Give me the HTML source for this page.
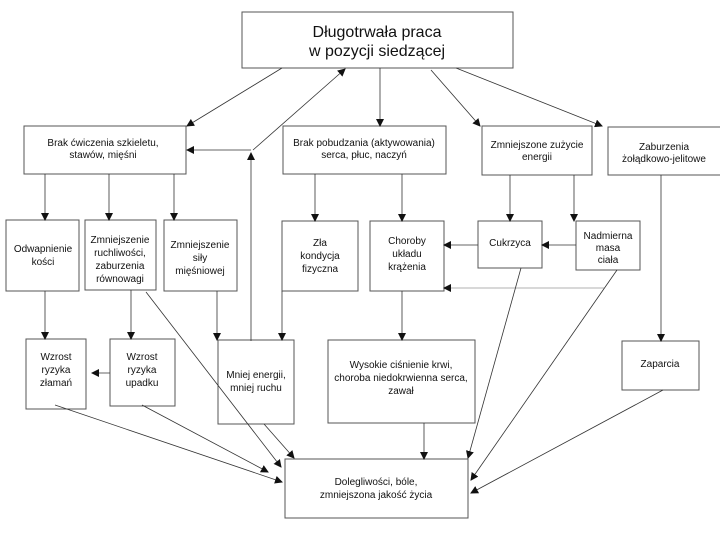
<!DOCTYPE html>
<html><head><meta charset="utf-8"><style>
html,body{margin:0;padding:0;background:#fff}
svg{display:block}
text{font-family:"Liberation Sans",Arial,sans-serif;font-size:10px;fill:#111;text-anchor:middle}
.b{fill:#fff;stroke:#555;stroke-width:1}
.l{stroke:#333;stroke-width:0.8;fill:none}
</style></head><body>
<svg width="720" height="540" viewBox="0 0 720 540" xmlns="http://www.w3.org/2000/svg">
<defs><marker id="a" markerWidth="8" markerHeight="8" refX="7" refY="4" orient="auto" markerUnits="userSpaceOnUse"><path d="M0,0 L8,4 L0,8 z" fill="#111"/></marker></defs>
<!-- boxes -->
<rect class="b" x="242" y="12" width="271" height="56"/>
<text x="377" y="37" style="font-size:16px">Długotrwała praca</text>
<text x="377" y="56" style="font-size:16px">w pozycji siedzącej</text>

<rect class="b" x="24" y="126" width="162" height="48"/>
<text x="103" y="146">Brak ćwiczenia szkieletu,</text><text x="103" y="158">stawów, mięśni</text>
<rect class="b" x="283" y="126" width="163" height="48"/>
<text x="364" y="146">Brak pobudzania (aktywowania)</text><text x="364" y="158">serca, płuc, naczyń</text>
<rect class="b" x="482" y="126" width="110" height="49"/>
<text x="537" y="148">Zmniejszone zużycie</text><text x="537" y="160">energii</text>
<rect class="b" x="608" y="127" width="114" height="48"/>
<text x="664" y="150">Zaburzenia</text><text x="664" y="162">żołądkowo-jelitowe</text>

<rect class="b" x="6" y="220" width="73" height="71"/>
<text x="43" y="252">Odwapnienie</text><text x="43" y="265">kości</text>
<rect class="b" x="85" y="220" width="71" height="70"/>
<text x="120" y="243">Zmniejszenie</text><text x="120" y="256">ruchliwości,</text><text x="120" y="269">zaburzenia</text><text x="120" y="282">równowagi</text>
<rect class="b" x="164" y="220" width="73" height="71"/>
<text x="200" y="248">Zmniejszenie</text><text x="200" y="261">siły</text><text x="200" y="274">mięśniowej</text>
<rect class="b" x="282" y="221" width="76" height="70"/>
<text x="320" y="246">Zła</text><text x="320" y="259">kondycja</text><text x="320" y="272">fizyczna</text>
<rect class="b" x="370" y="221" width="74" height="70"/>
<text x="407" y="244">Choroby</text><text x="407" y="257">układu</text><text x="407" y="270">krążenia</text>
<rect class="b" x="478" y="221" width="64" height="47"/>
<text x="510" y="246">Cukrzyca</text>
<rect class="b" x="576" y="221" width="64" height="49"/>
<text x="608" y="239">Nadmierna</text><text x="608" y="251">masa</text><text x="608" y="263">ciała</text>

<rect class="b" x="26" y="339" width="60" height="70"/>
<text x="56" y="360">Wzrost</text><text x="56" y="373">ryzyka</text><text x="56" y="386">złamań</text>
<rect class="b" x="110" y="339" width="65" height="67"/>
<text x="142" y="360">Wzrost</text><text x="142" y="373">ryzyka</text><text x="142" y="386">upadku</text>
<rect class="b" x="218" y="340" width="76" height="84"/>
<text x="256" y="378">Mniej energii,</text><text x="256" y="391">mniej ruchu</text>
<rect class="b" x="328" y="340" width="147" height="83"/>
<text x="401" y="368">Wysokie ciśnienie krwi,</text><text x="401" y="381">choroba niedokrwienna serca,</text><text x="401" y="394">zawał</text>
<rect class="b" x="622" y="341" width="77" height="49"/>
<text x="660" y="367">Zaparcia</text>

<rect class="b" x="285" y="459" width="183" height="59"/>
<text x="376" y="485">Dolegliwości, bóle,</text><text x="376" y="498">zmniejszona jakość życia</text>

<!-- connectors -->
<g class="l" marker-end="url(#a)">
<line x1="282" y1="68" x2="187" y2="126"/>
<line x1="380" y1="68" x2="380" y2="126"/>
<line x1="431" y1="70" x2="480" y2="126"/>
<line x1="456" y1="68" x2="602" y2="126"/>
<line x1="251" y1="341" x2="251" y2="153"/>
<line x1="253" y1="150" x2="345" y2="69"/>
<line x1="251" y1="150" x2="187" y2="150"/>
<line x1="45" y1="174" x2="45" y2="220"/>
<line x1="109" y1="174" x2="109" y2="220"/>
<line x1="174" y1="174" x2="174" y2="220"/>
<line x1="315" y1="174" x2="315" y2="221"/>
<line x1="402" y1="174" x2="402" y2="221"/>
<line x1="510" y1="175" x2="510" y2="221"/>
<line x1="574" y1="175" x2="574" y2="221"/>
<line x1="661" y1="175" x2="661" y2="341"/>
<line x1="478" y1="245" x2="444" y2="245"/>
<line x1="576" y1="245" x2="542" y2="245"/>
<line x1="604" y1="288" x2="444" y2="288" style="stroke:#999"/>
<line x1="45" y1="291" x2="45" y2="339"/>
<line x1="131" y1="290" x2="131" y2="339"/>
<line x1="217" y1="291" x2="217" y2="340"/>
<line x1="282" y1="291" x2="282" y2="340"/>
<line x1="402" y1="291" x2="402" y2="340"/>
<line x1="110" y1="373" x2="92" y2="373"/>
<line x1="146" y1="292" x2="281" y2="467"/>
<line x1="55" y1="405" x2="282" y2="482"/>
<line x1="142" y1="405" x2="268" y2="472"/>
<line x1="264" y1="424" x2="294" y2="458"/>
<line x1="424" y1="423" x2="424" y2="459"/>
<line x1="521" y1="268" x2="468" y2="458"/>
<line x1="617" y1="270" x2="471" y2="480"/>
<line x1="663" y1="390" x2="471" y2="493"/>
</g>
</svg>
</body></html>
